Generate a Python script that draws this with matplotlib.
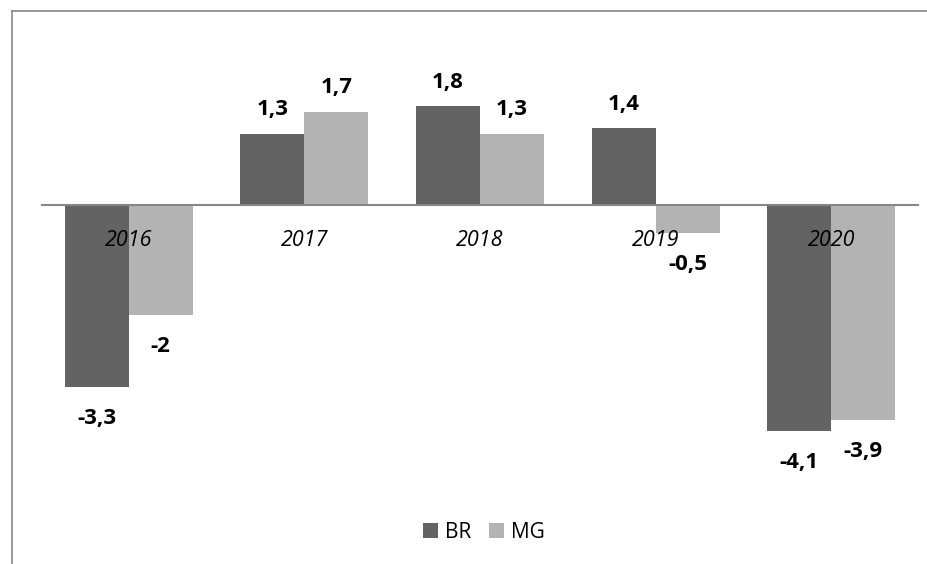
import matplotlib.pyplot as plt
from matplotlib.lines import Line2D
import numpy as np

plt.rcParams['font.family'] = ['Open Sans', 'DejaVu Sans']

anos = ['2016', '2017', '2018', '2019', '2020']
br = [-3.3, 1.3, 1.8, 1.4, -4.1]
mg = [-2.0, 1.7, 1.3, -0.5, -3.9]

cor_br = '#636363'
cor_mg = '#b3b3b3'

W, H = 927, 564
fig = plt.figure(figsize=(W / 100, H / 100), dpi=100)
# plot area in pixels: x 41..919, zero line at y=205, ~55 px per unit
ymin, ymax = -5.0, 3.0
ppu = 55.0
top = 205 - ymax * ppu
bottom = 205 - ymin * ppu
ax = fig.add_axes([41 / W, 1 - bottom / H, (919 - 41) / W, (bottom - top) / H])
ax.set_xlim(-0.5, len(anos) - 0.5)
ax.set_ylim(ymin, ymax)

x = np.arange(len(anos))
w = 0.364
ax.bar(x - w / 2, br, w, color=cor_br, label='BR', zorder=2)
ax.bar(x + w / 2, mg, w, color=cor_mg, label='MG', zorder=2)
ax.axhline(0, color='#868686', lw=1.5, zorder=3)

def fmt(v):
    s = ('%.1f' % v).replace('.', ',')
    if s.endswith(',0'):
        s = s[:-2]
    return s

for xs, vals in ((x - w / 2, br), (x + w / 2, mg)):
    for xi, v in zip(xs, vals):
        dy = 13 if v >= 0 else -27
        ax.annotate(fmt(v), (xi, v), xytext=(0, dy), textcoords='offset points',
                    ha='center', va='baseline', fontsize=16, fontweight='bold')

for xi, a in zip(x, anos):
    ax.annotate(a, (xi, 0), xytext=(0, -29.5), textcoords='offset points',
                ha='center', va='baseline', fontsize=15.5, style='italic', zorder=4)

for s in ax.spines.values():
    s.set_visible(False)
ax.set_xticks([])
ax.set_yticks([])
ax.patch.set_alpha(0)

leg = fig.legend(loc='center', bbox_to_anchor=(484 / W, 1 - 532 / H), ncol=2,
                 frameon=False, fontsize=15, handlelength=0.72, handleheight=0.72,
                 handletextpad=0.34, columnspacing=0.87)

# chart frame (top and left edges visible)
fig.add_artist(Line2D([12 / W, 1], [1 - 11 / H, 1 - 11 / H], color='#888888', lw=1.2,
                      transform=fig.transFigure))
fig.add_artist(Line2D([12 / W, 12 / W], [0, 1 - 11 / H], color='#888888', lw=1.2,
                      transform=fig.transFigure))

fig.savefig('out.png', dpi=100)
